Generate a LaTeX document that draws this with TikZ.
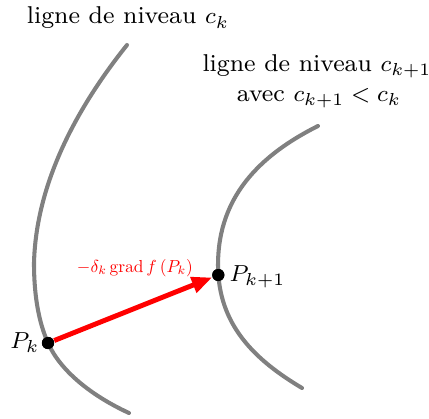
\documentclass[tikz,border=0pt]{standalone}
\usepackage{graphicx}
\usetikzlibrary{arrows.meta}
\begin{document}
\begin{tikzpicture}[x=0.345pt,y=-0.345pt,
  level/.style={draw=gray, line width=1.4pt, line cap=round},
  dot/.style={circle, fill=black, inner sep=0pt, minimum size=4.2pt},
  lbl/.style={inner sep=0pt, font=\fontsize{8.4}{10}\selectfont},
  grad/.style={draw=red, line width=1.7pt, -{Triangle[length=7pt,width=5.5pt]}}]
\useasboundingbox (0,0) rectangle (429,418);
% points
\coordinate (a1) at (127,45);
\coordinate (a2) at (34,263);
\coordinate (a3) at (129,413);
\coordinate (b1) at (318,126);
\coordinate (b2) at (218,265);
\coordinate (b3) at (302,388);
\node[dot] (pk) at (48,343) {};
\node[dot] (pk1) at (218.3,275) {};
% level curves
\draw[level] (a1) .. controls (75,110) and (36,185) .. (a2)
  .. controls (34,300) and (40,325) .. (pk.center)
  .. controls (60,370) and (90,395) .. (a3);
\draw[level] (b1) .. controls (250,160) and (218,205) .. (b2)
  .. controls (218,325) and (255,360) .. (b3);
\node[dot] at (pk) {};
\node[dot] at (pk1) {};
\draw[grad] (pk) -- (pk1);
% labels
\node[lbl] (t1) at (128,18) {ligne de niveau $c_k$};
\node[lbl] (t2) at (317,66) {ligne de niveau $c_{k+1}$};
\node[lbl] (t3) at (319,98) {avec $c_{k+1}<c_k$};
\node[lbl, anchor=east] (lpk) at (40,343) {$P_k$};
\node[lbl, anchor=west] (lpk1) at (229,277) {$P_{k+1}$};
\node[inner sep=0pt, text=red] (lg) at (135,268) {\scalebox{0.6}{\fontsize{10}{12}\selectfont$-\delta_k\,\mathrm{grad}\,f\,(P_k)$}};
\end{tikzpicture}
\end{document}
